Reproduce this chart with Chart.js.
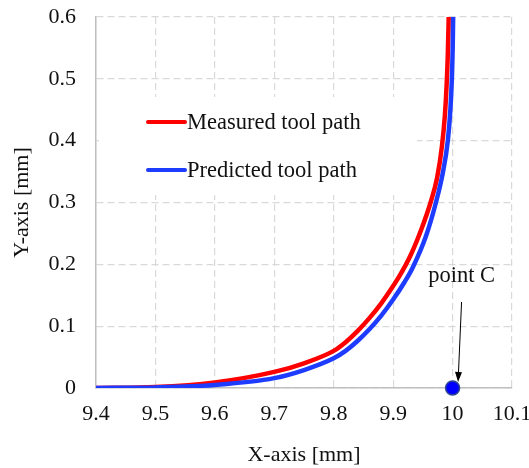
<!DOCTYPE html>
<html>
<head>
<meta charset="utf-8">
<title>Tool path near point C</title>
<script src="https://cdn.jsdelivr.net/npm/chart.js@4/dist/chart.umd.min.js"></script>
<style>
  html, body { margin: 0; padding: 0; background: #fff; }
  #wrap { width: 529px; height: 468px; }
</style>
</head>
<body>
<div id="wrap"><canvas id="pathChart"></canvas></div>
<script>
// measured path (x, y in mm)
const measuredX = [9.40, 9.50, 9.60, 9.70, 9.75, 9.80, 9.82, 9.84, 9.86, 9.88, 9.90, 9.91, 9.93, 9.948, 9.963, 9.974, 9.982, 9.987, 9.990, 9.992, 9.9935];
const measuredY = [0, 0.0015, 0.009, 0.026, 0.040, 0.060, 0.074, 0.092, 0.113, 0.137, 0.165, 0.180, 0.216, 0.258, 0.300, 0.340, 0.390, 0.440, 0.490, 0.540, 0.600];

// predicted path (x, y in mm)
const predictedX = [9.40, 9.50, 9.60, 9.70, 9.75, 9.80, 9.82, 9.84, 9.86, 9.88, 9.90, 9.919, 9.933, 9.955, 9.972, 9.984, 9.992, 9.9963, 9.9988, 10.0002, 10.001];
const predictedY = [0, 0.001, 0.005, 0.016, 0.029, 0.048, 0.060, 0.076, 0.095, 0.117, 0.143, 0.171, 0.195, 0.245, 0.300, 0.350, 0.400, 0.450, 0.500, 0.550, 0.600];

const pointC = { x: 10, y: 0 };
const pointCLabel = 'point C';

const seriesNames = ['Measured tool path', 'Predicted tool path'];
const xTicks = [9.4, 9.5, 9.6, 9.7, 9.8, 9.9, 10, 10.1];
const yTicks = [0, 0.1, 0.2, 0.3, 0.4, 0.5, 0.6];

const serif = '"Liberation Serif", "Times New Roman", serif';
const textColor = '#111';

function toPoints(xs, ys) {
  return xs.map((x, i) => ({ x: x, y: ys[i] }));
}

// legend sits inside the plot on a white box
const insideLegend = {
  id: 'insideLegend',
  beforeDatasetsDraw(chart) {
    const { ctx, chartArea: a } = chart;
    ctx.save();
    ctx.fillStyle = '#fff';
    ctx.fillRect(a.left + 3, a.top + 80, 318, 98);
    ctx.font = '22.5px ' + serif;
    ctx.textBaseline = 'middle';
    ctx.fillStyle = textColor;
    const items = [
      { ds: chart.data.datasets[2], y: a.top + 105 },
      { ds: chart.data.datasets[1], y: a.top + 153 }
    ];
    items.forEach(it => {
      ctx.strokeStyle = it.ds.borderColor;
      ctx.lineWidth = 4;
      ctx.lineCap = 'round';
      ctx.beginPath();
      ctx.moveTo(a.left + 52, it.y);
      ctx.lineTo(a.left + 89, it.y);
      ctx.stroke();
      ctx.fillText(it.ds.label, a.left + 91, it.y + 1);
    });
    ctx.restore();
  }
};

// callout text and arrow pointing at point C
const pointCallout = {
  id: 'pointCallout',
  afterDatasetsDraw(chart) {
    const { ctx, scales } = chart;
    const px = scales.x.getPixelForValue(pointC.x);
    const py = scales.y.getPixelForValue(pointC.y);
    ctx.save();
    ctx.font = '22.5px ' + serif;
    ctx.fillStyle = textColor;
    ctx.textAlign = 'center';
    ctx.textBaseline = 'middle';
    ctx.fillText(pointCLabel, px + 9, py - 112);

    const x0 = px + 9, y0 = py - 86;
    const x1 = px + 5.5, y1 = py - 6;
    const ang = Math.atan2(y1 - y0, x1 - x0);
    ctx.strokeStyle = '#000';
    ctx.lineWidth = 1;
    ctx.beginPath();
    ctx.moveTo(x0, y0);
    ctx.lineTo(x1 - 9 * Math.cos(ang), y1 - 9 * Math.sin(ang));
    ctx.stroke();
    ctx.fillStyle = '#000';
    ctx.beginPath();
    ctx.moveTo(x1, y1);
    ctx.lineTo(x1 - 10 * Math.cos(ang) + 3.5 * Math.sin(ang), y1 - 10 * Math.sin(ang) - 3.5 * Math.cos(ang));
    ctx.lineTo(x1 - 10 * Math.cos(ang) - 3.5 * Math.sin(ang), y1 - 10 * Math.sin(ang) + 3.5 * Math.cos(ang));
    ctx.closePath();
    ctx.fill();
    ctx.restore();
  }
};

// invisible tick marks keep the labels away from the axis
function gridStyle(gap) {
  return {
    color: '#d9d9d9',
    lineWidth: 1.2,
    drawTicks: true,
    tickLength: gap,
    tickColor: 'rgba(0,0,0,0)'
  };
}
const axisBorder = { display: true, color: '#bfbfbf', width: 1.5, dash: [7, 4] };

new Chart(document.getElementById('pathChart'), {
  type: 'scatter',
  data: {
    datasets: [
      {
        label: pointCLabel,
        data: [pointC],
        backgroundColor: '#0000ff',
        borderColor: '#2e4a8c',
        borderWidth: 1.5,
        pointRadius: 7,
        pointHoverRadius: 7,
        clip: false,
        order: 0
      },
      {
        label: seriesNames[1],
        data: toPoints(predictedX, predictedY),
        showLine: true,
        borderColor: '#1e3cff',
        backgroundColor: '#1e3cff',
        borderWidth: 4.5,
        pointRadius: 0,
        cubicInterpolationMode: 'monotone',
        order: 1
      },
      {
        label: seriesNames[0],
        data: toPoints(measuredX, measuredY),
        showLine: true,
        borderColor: '#ff0000',
        backgroundColor: '#ff0000',
        borderWidth: 4.5,
        pointRadius: 0,
        cubicInterpolationMode: 'monotone',
        order: 2
      }
    ]
  },
  options: {
    responsive: true,
    maintainAspectRatio: false,
    animation: false,
    layout: {
      padding: { top: 17, right: 17, left: 0, bottom: 0 }
    },
    scales: {
      x: {
        type: 'linear',
        min: 9.4,
        max: 10.1,
        // last label may run to the canvas edge
        afterFit(s) { s.height = 80; s.paddingRight = 0; },
        afterBuildTicks(s) { s.ticks = xTicks.map(v => ({ value: v })); },
        grid: gridStyle(13),
        border: axisBorder,
        ticks: {
          padding: 0,
          color: textColor,
          font: { family: serif, size: 22 },
          maxRotation: 0,
          callback: v => String(v)
        },
        title: {
          display: true,
          text: 'X-axis [mm]',
          color: textColor,
          font: { family: serif, size: 22 },
          padding: { top: 0, bottom: 0 }
        }
      },
      y: {
        type: 'linear',
        min: 0,
        max: 0.6,
        afterFit(s) { s.width = 96; },
        afterBuildTicks(s) { s.ticks = yTicks.map(v => ({ value: v })); },
        grid: gridStyle(20),
        border: axisBorder,
        ticks: {
          padding: 0,
          color: textColor,
          font: { family: serif, size: 22 },
          callback: v => String(v)
        },
        title: {
          display: true,
          text: 'Y-axis [mm]',
          color: textColor,
          font: { family: serif, size: 22 },
          padding: { top: 9, bottom: 0 }
        }
      }
    },
    plugins: {
      legend: { display: false },
      tooltip: { enabled: false }
    }
  },
  plugins: [insideLegend, pointCallout]
});
</script>
</body>
</html>
